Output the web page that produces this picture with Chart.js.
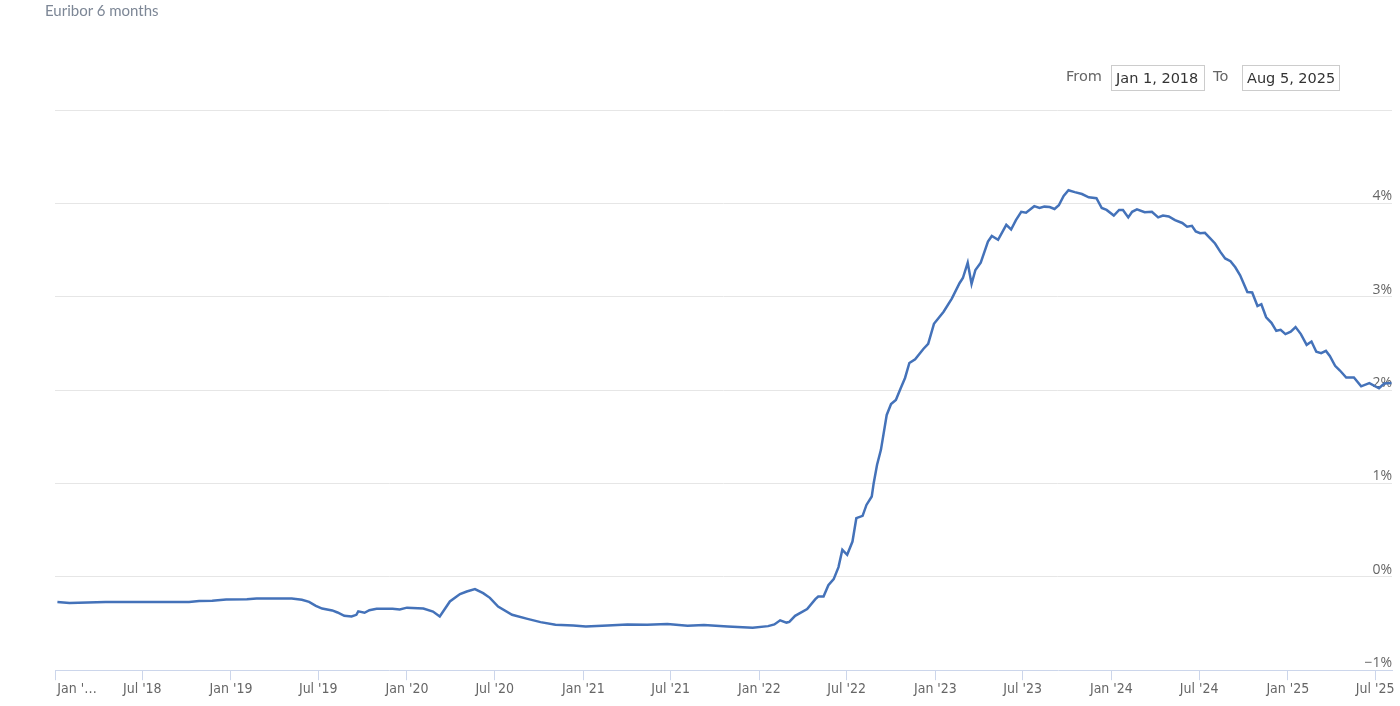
<!DOCTYPE html>
<html>
<head>
<meta charset="utf-8">
<title>Euribor 6 months</title>
<script src="https://cdn.jsdelivr.net/npm/chart.js@4.4.0/dist/chart.umd.min.js"></script>
<style>
  body { margin: 0; background: #fff; }
  .wrap { position: relative; width: 1400px; height: 706px; overflow: hidden; }
  #rateChart { position: absolute; left: 0; top: 0; }
  .title { position: absolute; left: 45px; top: 1px; font: 15px Lato, sans-serif; color: #7d8796; }
  .range-lbl { position: absolute; top: 68px; font: 14.5px "DejaVu Sans", sans-serif; color: #666; }
  .range-box { position: absolute; top: 65px; height: 26px; box-sizing: border-box; border: 1px solid #ccc;
               font: 14.5px "DejaVu Sans", sans-serif; color: #333; line-height: 25px; padding-left: 4px; background: #fff; }
</style>
</head>
<body>
<div class="wrap">
  <canvas id="rateChart" width="1400" height="706"></canvas>
  <div class="title">Euribor 6 months</div>
  <span class="range-lbl" style="left:1066px">From</span>
  <div class="range-box" style="left:1111px;width:94px">Jan 1, 2018</div>
  <span class="range-lbl" style="left:1213px">To</span>
  <div class="range-box" style="left:1242px;width:98px">Aug 5, 2025</div>
</div>
<script>
// Euribor 6 months (%)
let dates = [
  "2018-01-06","2018-01-31","2018-04-16","2018-07-14","2018-10-06","2018-10-27","2018-11-23","2018-12-22",
  "2019-02-03","2019-02-23","2019-05-07","2019-05-28","2019-06-12","2019-06-26","2019-07-09","2019-07-30",
  "2019-08-10","2019-08-24","2019-09-08","2019-09-18","2019-09-22","2019-10-05","2019-10-15","2019-10-30",
  "2019-12-02","2019-12-17","2020-01-01","2020-02-04","2020-02-24","2020-03-09","2020-03-30","2020-04-20",
  "2020-05-04","2020-05-21","2020-06-07","2020-06-21","2020-07-08","2020-08-06","2020-09-07","2020-10-04",
  "2020-11-04","2020-12-11","2021-01-06","2021-02-20","2021-04-02","2021-05-13","2021-06-24","2021-08-05",
  "2021-09-08","2021-10-27","2021-12-18","2022-01-19","2022-02-01","2022-02-13","2022-02-26","2022-03-04",
  "2022-03-16","2022-04-10","2022-04-27","2022-05-03","2022-05-14","2022-05-24","2022-06-04","2022-06-14",
  "2022-06-22","2022-07-02","2022-07-13","2022-07-21","2022-08-03","2022-08-11","2022-08-22","2022-08-26",
  "2022-09-02","2022-09-10","2022-09-22","2022-10-01","2022-10-11","2022-10-21","2022-10-30","2022-11-08",
  "2022-11-20","2022-12-07","2022-12-17","2022-12-29","2023-01-18","2023-02-04","2023-02-20","2023-02-27",
  "2023-03-09","2023-03-17","2023-03-25","2023-04-05","2023-04-20","2023-04-28","2023-05-11","2023-05-28",
  "2023-06-07","2023-06-17","2023-06-28","2023-07-08","2023-07-25","2023-08-05","2023-08-15","2023-08-26",
  "2023-09-05","2023-09-14","2023-09-24","2023-10-04","2023-10-17","2023-11-01","2023-11-15","2023-12-01",
  "2023-12-12","2023-12-22","2024-01-06","2024-01-17","2024-01-25","2024-02-05","2024-02-13","2024-02-23",
  "2024-03-10","2024-03-25","2024-04-07","2024-04-17","2024-04-29","2024-05-12","2024-05-27","2024-06-06",
  "2024-06-16","2024-06-24","2024-07-03","2024-07-13","2024-07-24","2024-08-03","2024-08-14","2024-08-24",
  "2024-09-04","2024-09-14","2024-09-24","2024-10-09","2024-10-19","2024-10-30","2024-11-07","2024-11-17",
  "2024-11-28","2024-12-08","2024-12-17","2024-12-27","2025-01-07","2025-01-17","2025-01-28","2025-02-09",
  "2025-02-19","2025-03-01","2025-03-11","2025-03-21","2025-03-29","2025-04-09","2025-04-19","2025-05-02",
  "2025-05-18","2025-06-02","2025-06-19","2025-07-09","2025-07-20","2025-08-04"
];
let rates = [
  -0.27,-0.28,-0.27,-0.27,-0.27,-0.26,-0.255,-0.243,
  -0.239,-0.232,-0.232,-0.246,-0.268,-0.31,-0.34,-0.36,
  -0.382,-0.418,-0.425,-0.407,-0.37,-0.385,-0.357,-0.343,
  -0.343,-0.35,-0.33,-0.34,-0.372,-0.425,-0.264,-0.185,
  -0.157,-0.132,-0.175,-0.225,-0.318,-0.407,-0.45,-0.485,
  -0.514,-0.52,-0.532,-0.52,-0.51,-0.514,-0.506,-0.525,
  -0.517,-0.532,-0.546,-0.528,-0.51,-0.466,-0.49,-0.482,
  -0.418,-0.346,-0.239,-0.211,-0.211,-0.089,-0.025,0.104,
  0.289,0.236,0.378,0.628,0.653,0.77,0.86,1.003,
  1.2,1.36,1.734,1.85,1.895,2.02,2.13,2.29,
  2.33,2.44,2.495,2.71,2.84,2.98,3.145,3.2,
  3.365,3.137,3.287,3.365,3.59,3.65,3.61,3.77,
  3.72,3.82,3.91,3.9,3.97,3.95,3.965,3.96,
  3.94,3.98,4.08,4.14,4.12,4.1,4.065,4.055,
  3.95,3.93,3.87,3.93,3.93,3.85,3.91,3.935,
  3.905,3.91,3.85,3.87,3.86,3.82,3.79,3.75,
  3.76,3.7,3.68,3.685,3.625,3.57,3.48,3.41,
  3.38,3.315,3.23,3.05,3.045,2.9,2.92,2.78,
  2.72,2.635,2.645,2.6,2.625,2.675,2.6,2.485,
  2.52,2.41,2.395,2.42,2.365,2.26,2.21,2.135,
  2.135,2.04,2.075,2.02,2.07,2.075
];

let tickDates = ["2018-01-01","2018-07-01","2019-01-01","2019-07-01","2020-01-01","2020-07-01","2021-01-01","2021-07-01",
  "2022-01-01","2022-07-01","2023-01-01","2023-07-01","2024-01-01","2024-07-01","2025-01-01","2025-07-01"];
let xTickLabels = ["           Jan '\u2026","Jul '18","Jan '19","Jul '19","Jan '20","Jul '20","Jan '21","Jul '21",
  "Jan '22","Jul '22","Jan '23","Jul '23","Jan '24","Jul '24","Jan '25","Jul '25"];

let xMin = Date.parse("2018-01-01");
let xMax = Date.parse("2025-08-05");

let points = dates.map((d, i) => ({ x: Date.parse(d), y: rates[i] }));

new Chart(document.getElementById('rateChart'), {
  type: 'line',
  data: {
    datasets: [{
      data: points,
      borderColor: '#4472b9',
      borderWidth: 2.5,
      pointRadius: 0,
      tension: 0,
      fill: false
    }]
  },
  options: {
    responsive: false,
    animation: false,
    layout: { padding: { left: 55, right: 8, top: 110, bottom: 7 } },
    plugins: {
      legend: { display: false },
      tooltip: { enabled: false }
    },
    scales: {
      x: {
        type: 'linear',
        min: xMin,
        max: xMax,
        afterBuildTicks: axis => { axis.ticks = tickDates.map(d => ({ value: Date.parse(d) })); },
        ticks: {
          autoSkip: false,
          maxRotation: 0,
          padding: 1,
          color: '#666',
          font: { family: '"Liberation Sans Narrow", "DejaVu Sans Condensed", sans-serif', size: 14 },
          callback: (v, i) => xTickLabels[i]
        },
        grid: { drawOnChartArea: false, tickLength: 10, color: '#ccd6eb' },
        border: { color: '#ccd6eb' }
      },
      y: {
        position: 'right',
        min: -1,
        max: 5,
        ticks: {
          stepSize: 1,
          mirror: true,
          padding: 0,
          labelOffset: -7,
          color: '#666',
          font: { family: '"Open Sans", sans-serif', size: 14 },
          callback: v => v === 5 ? '' : (v < 0 ? '\u2212' : '') + Math.abs(v) + '%'
        },
        grid: {
          drawTicks: false,
          color: c => (c.tick && c.tick.value === -1) ? 'rgba(0,0,0,0)' : '#e6e6e6'
        },
        border: { display: false }
      }
    }
  }
});
</script>
</body>
</html>
